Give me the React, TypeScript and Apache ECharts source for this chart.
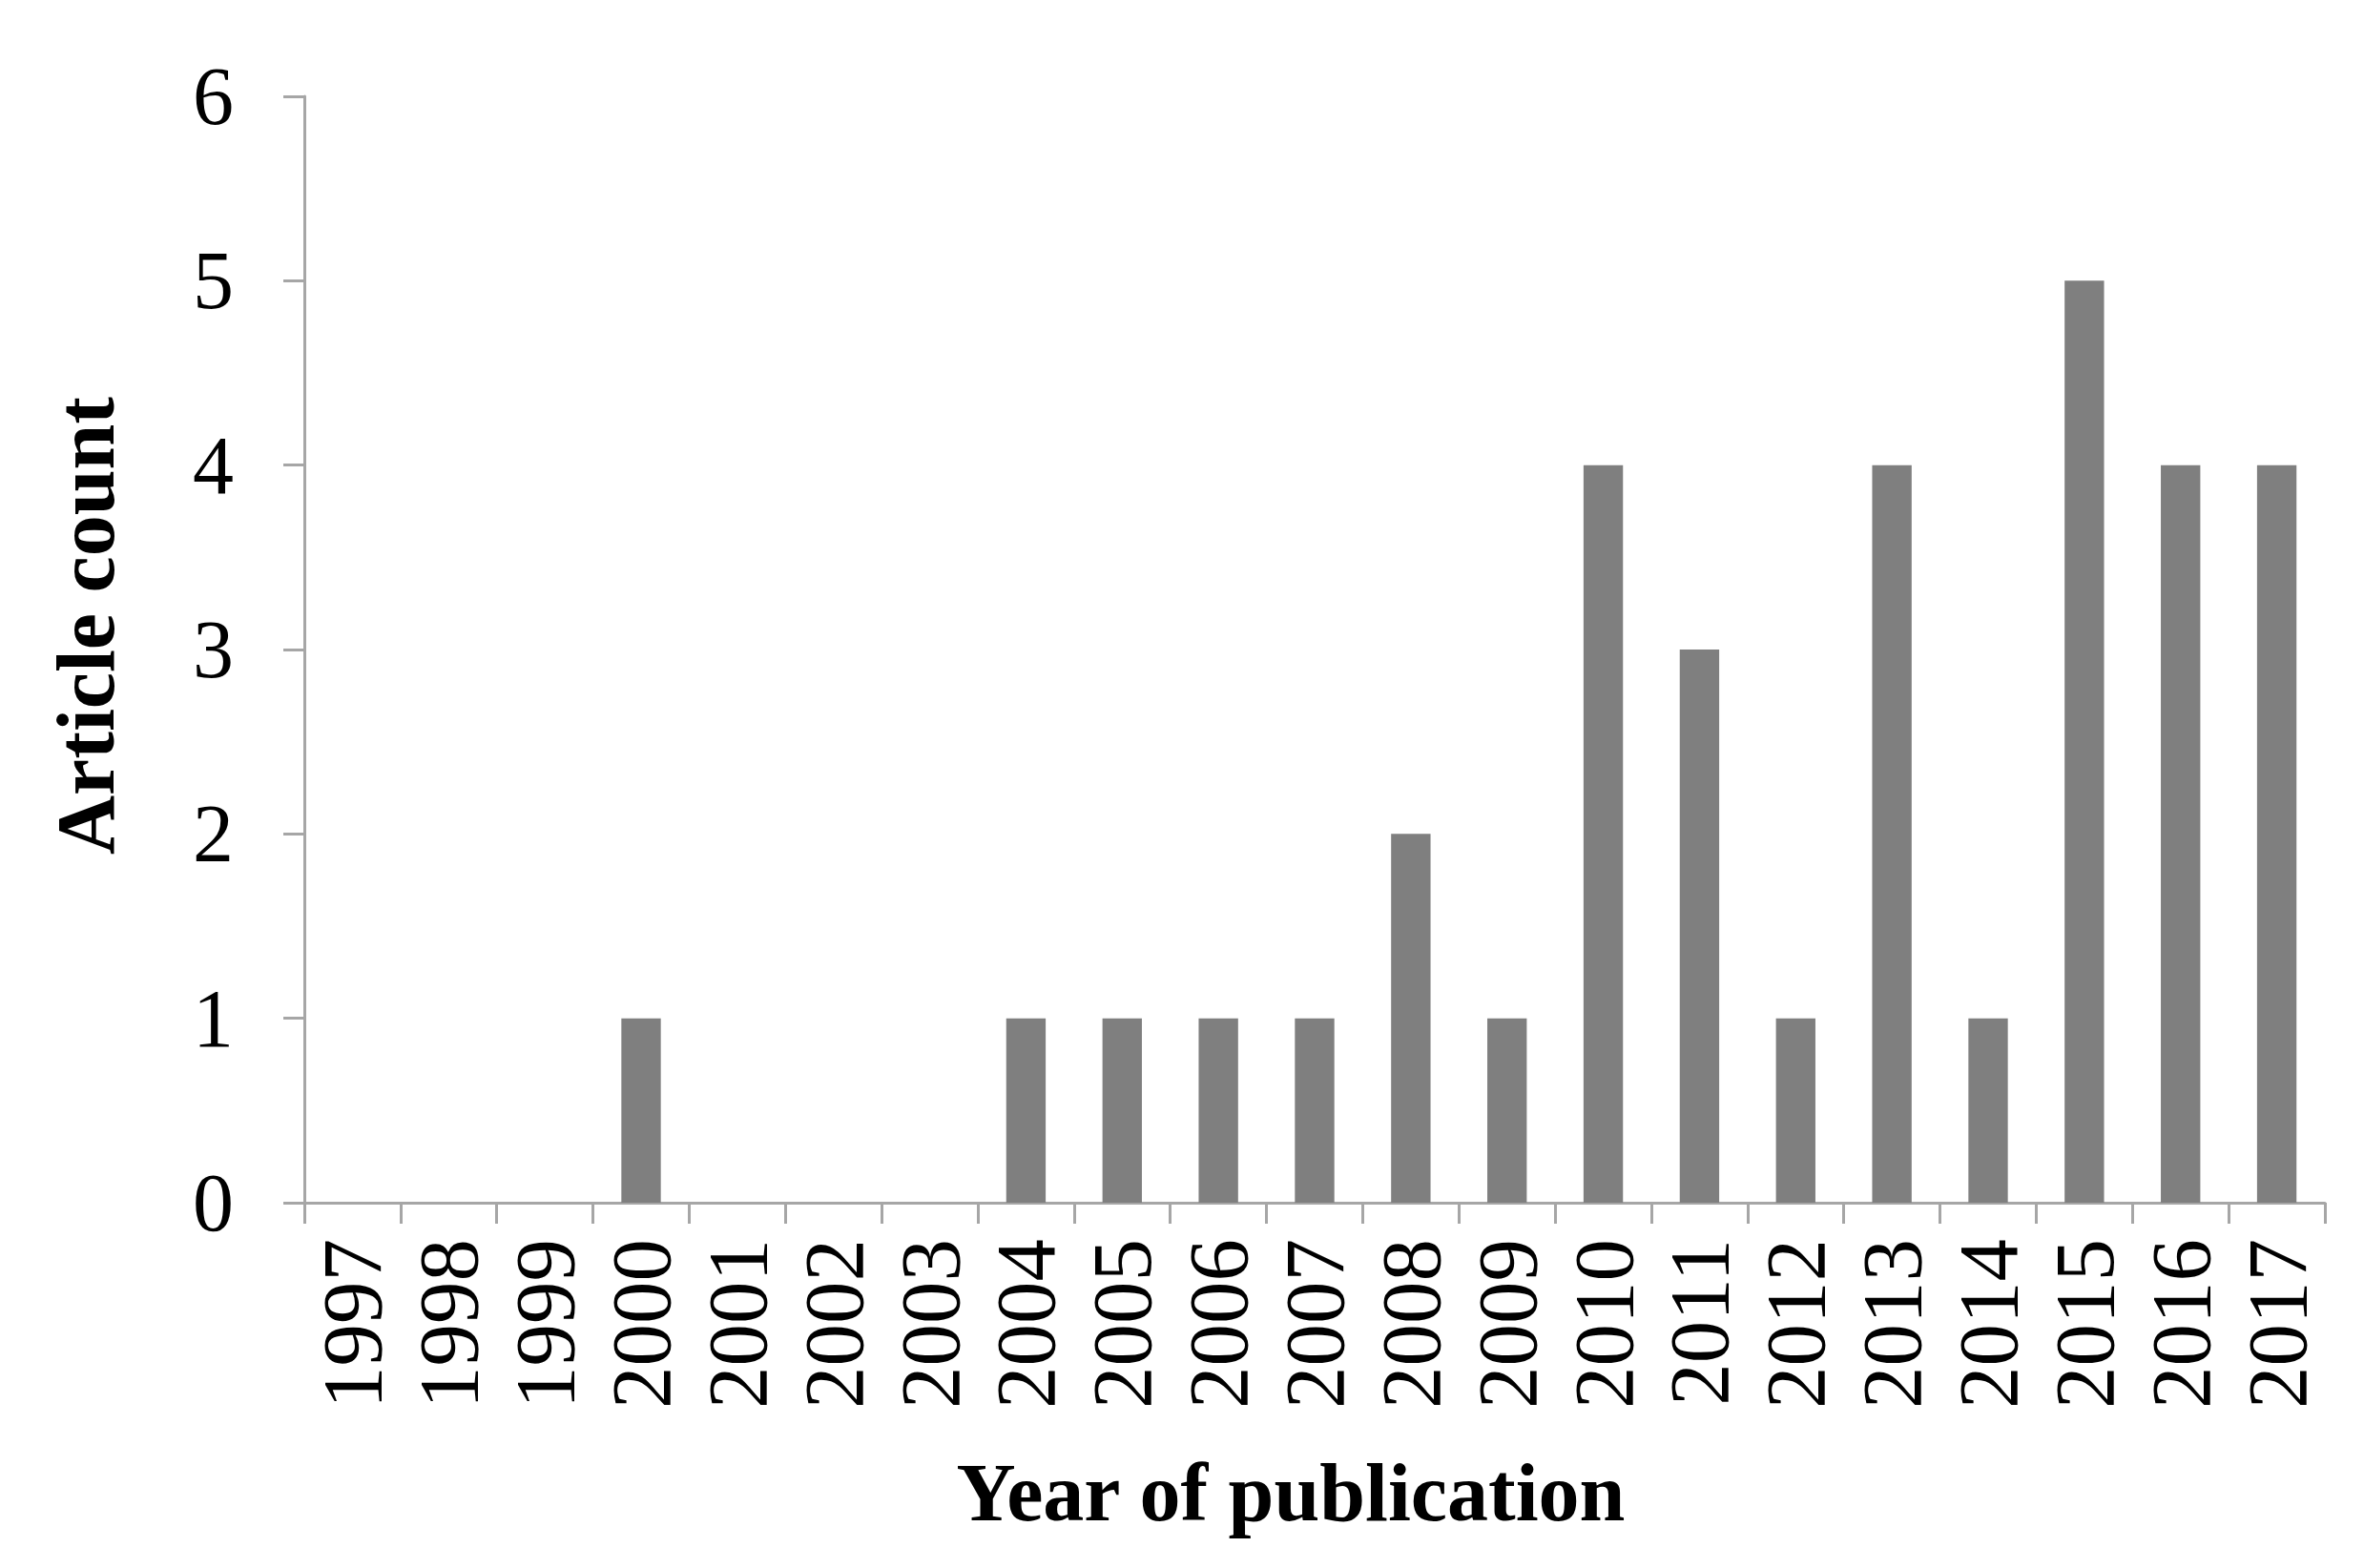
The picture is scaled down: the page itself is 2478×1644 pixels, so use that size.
import React, { useEffect, useRef } from "react";
import * as echarts from "echarts";

const years = ["1997","1998","1999","2000","2001","2002","2003","2004","2005","2006","2007","2008","2009","2010","2011","2012","2013","2014","2015","2016","2017"];
const articleCounts = [0,0,0,1,0,0,0,1,1,1,1,2,1,4,3,1,4,1,5,4,4];
const yTicks = [0,1,2,3,4,5,6];
const xTitle = "Year of publication";
const yTitle = "Article count";

const FONT = '"Liberation Serif", "Times New Roman", serif';

export default function App() {
  const ref = useRef<HTMLDivElement>(null);
  useEffect(() => {
    document.body.style.margin = "0";
    const chart = echarts.init(ref.current!, null, { renderer: "svg" });
    chart.setOption({
      animation: false,
      backgroundColor: "#ffffff",
      grid: { left: 319, right: 41, top: 101, bottom: 383, containLabel: false },
      xAxis: {
        type: "category",
        data: years,
        boundaryGap: true,
        axisLine: { lineStyle: { color: "#a6a6a6", width: 3 } },
        axisTick: { show: true, alignWithLabel: false, length: 22, lineStyle: { color: "#a6a6a6", width: 3 } },
        axisLabel: { rotate: 90, margin: 38, color: "#000", fontFamily: FONT, fontSize: 89, interval: 0 },
        splitLine: { show: false },
      },
      yAxis: {
        type: "value",
        min: yTicks[0],
        max: yTicks[yTicks.length - 1],
        interval: 1,
        axisLine: { show: true, lineStyle: { color: "#a6a6a6", width: 3 } },
        axisTick: { show: true, length: 22, lineStyle: { color: "#a6a6a6", width: 3 } },
        axisLabel: { margin: 74, color: "#000", fontFamily: FONT, fontSize: 86 },
        splitLine: { show: false },
      },
      graphic: [
        {
          type: "text",
          x: 1353,
          y: 1565,
          style: { text: xTitle, fontFamily: FONT, fontSize: 86, fontWeight: "bold", fill: "#000", align: "center", verticalAlign: "middle" },
        },
        {
          type: "text",
          x: 90,
          y: 656,
          rotation: Math.PI / 2,
          style: { text: yTitle, fontFamily: FONT, fontSize: 86, fontWeight: "bold", fill: "#000", align: "center", verticalAlign: "middle" },
        },
      ],
      series: [
        {
          type: "bar",
          data: articleCounts,
          barWidth: "41%",
          itemStyle: { color: "#7f7f7f" },
        },
      ],
    });
    return () => chart.dispose();
  }, []);
  return <div ref={ref} style={{ width: 2478, height: 1644 }} />;
}
